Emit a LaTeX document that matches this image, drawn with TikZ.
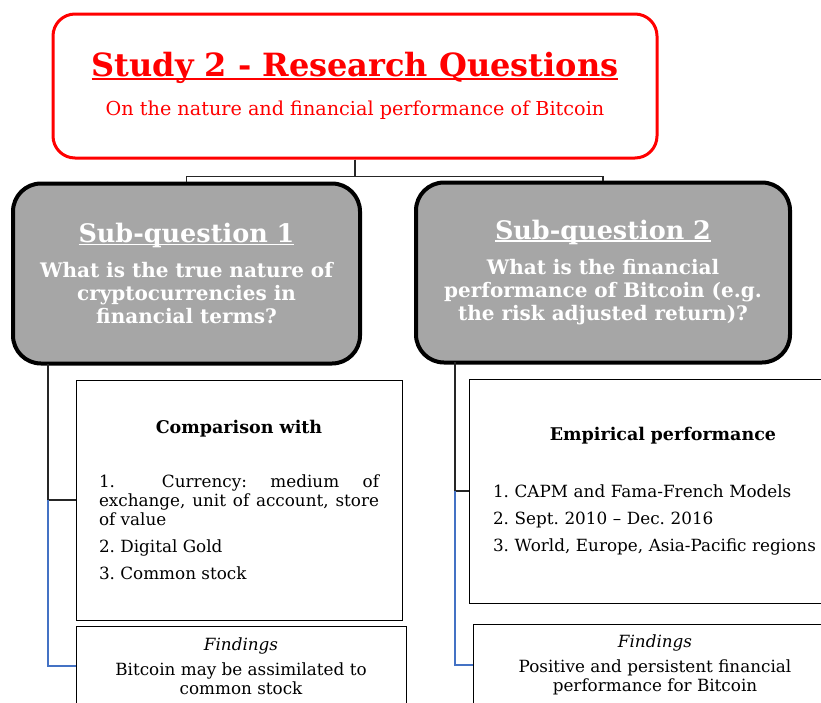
\documentclass[tikz,border=0pt]{standalone}
\usepackage{fontspec}
\setmainfont{DejaVu Serif}
\usetikzlibrary{positioning}
\definecolor{titlered}{HTML}{FF0000}
\definecolor{qgray}{HTML}{A6A6A6}
\definecolor{linkblue}{HTML}{4472C4}
\newcommand{\ulhead}[1]{\setbox0\hbox{#1}\rlap{\rule[-0.11em]{\wd0}{0.07em}}\box0}
\tikzset{
  title box/.style={draw=titlered,line width=3pt,rounded corners=22pt,fill=white,
    minimum width=604pt,minimum height=144pt,align=center,text=titlered,
    font=\fontsize{19.2}{24}\selectfont},
  question box/.style={draw=black,line width=4pt,rounded corners=28pt,fill=qgray,
    minimum height=180pt,align=center,text=white,
    font=\bfseries\fontsize{20}{23}\selectfont},
  content box/.style={draw=black,line width=1pt,inner sep=0pt,
    font=\fontsize{16.8}{19}\selectfont},
  link/.style={draw=black!85,line width=1.2pt},
  sub link/.style={draw=linkblue,line width=1.2pt}
}

\begin{document}
\frenchspacing
\begin{tikzpicture}[x=1pt,y=-1pt]
  \useasboundingbox (0,0) rectangle (821,702);
  % main question
  \node[title box] (study) at (355,86)
    {{\fontsize{32}{36}\selectfont\bfseries\ulhead{Study 2 - Research Questions}}\\[15pt]
     On the nature and financial performance of Bitcoin};
  % sub-questions
  \node[question box,minimum width=347pt] (sq1) at (186.5,273.5)
    {{\fontsize{25.5}{30}\selectfont\ulhead{Sub-question 1}}\\[12pt]
     What is the true nature of\\cryptocurrencies in\\financial terms?};
  \node[question box,minimum width=374pt] (sq2) at (603,272.5)
    {{\fontsize{25.5}{30}\selectfont\ulhead{Sub-question 2}}\\[12pt]
     What is the financial\\performance of Bitcoin (e.g.\\the risk adjusted return)?};
  % contents
  \node[content box,minimum width=326pt,minimum height=240pt,text width=280pt,align=justify] (cmp) at (239,500)
    {{\centering\fontsize{17.5}{19}\selectfont\textbf{Comparison with}\par}\vspace{35pt}
     1.\ \ Currency: medium of\linebreak exchange, unit of account, store\linebreak of value\par\vspace{8pt}
     2. Digital Gold\par\vspace{8pt}
     3. Common stock\par};
  \node[content box,minimum width=330pt,minimum height=80pt,align=center] (fnd1) at (241,666)
    {\textit{Findings}\\[6pt]Bitcoin may be assimilated to\\common stock};
  \node[content box,minimum width=388pt,minimum height=224pt,text width=340pt,align=left,
    font=\fontsize{16.8}{27}\selectfont] (emp) at (663,491)
    {{\centering\fontsize{17.5}{19}\selectfont\textbf{Empirical performance}\par}\vspace{30pt}
     1. CAPM and Fama-French Models\par
     2. Sept. 2010 -- Dec. 2016\par
     3. World, Europe, Asia-Pacific regions\par};
  \node[content box,minimum width=364pt,minimum height=82pt,align=center] (fnd2) at (655,665)
    {\textit{Findings}\\[6pt]Positive and persistent financial\\performance for Bitcoin};
  % branches
  \coordinate (b1) at (48,364);
  \coordinate (b2) at (455,362);
  \draw[link] (study.south) -- ++(0,17) -| (sq1.north);
  \draw[link] (study.south) -- ++(0,17) -| (sq2.north);
  \draw[link] (b1) |- (cmp.west);
  \draw[sub link] (cmp.west -| b1) |- (fnd1.west);
  \draw[link] (b2) |- (emp.west);
  \draw[sub link] (emp.west -| b2) |- (fnd2.west);
\end{tikzpicture}
\end{document}
